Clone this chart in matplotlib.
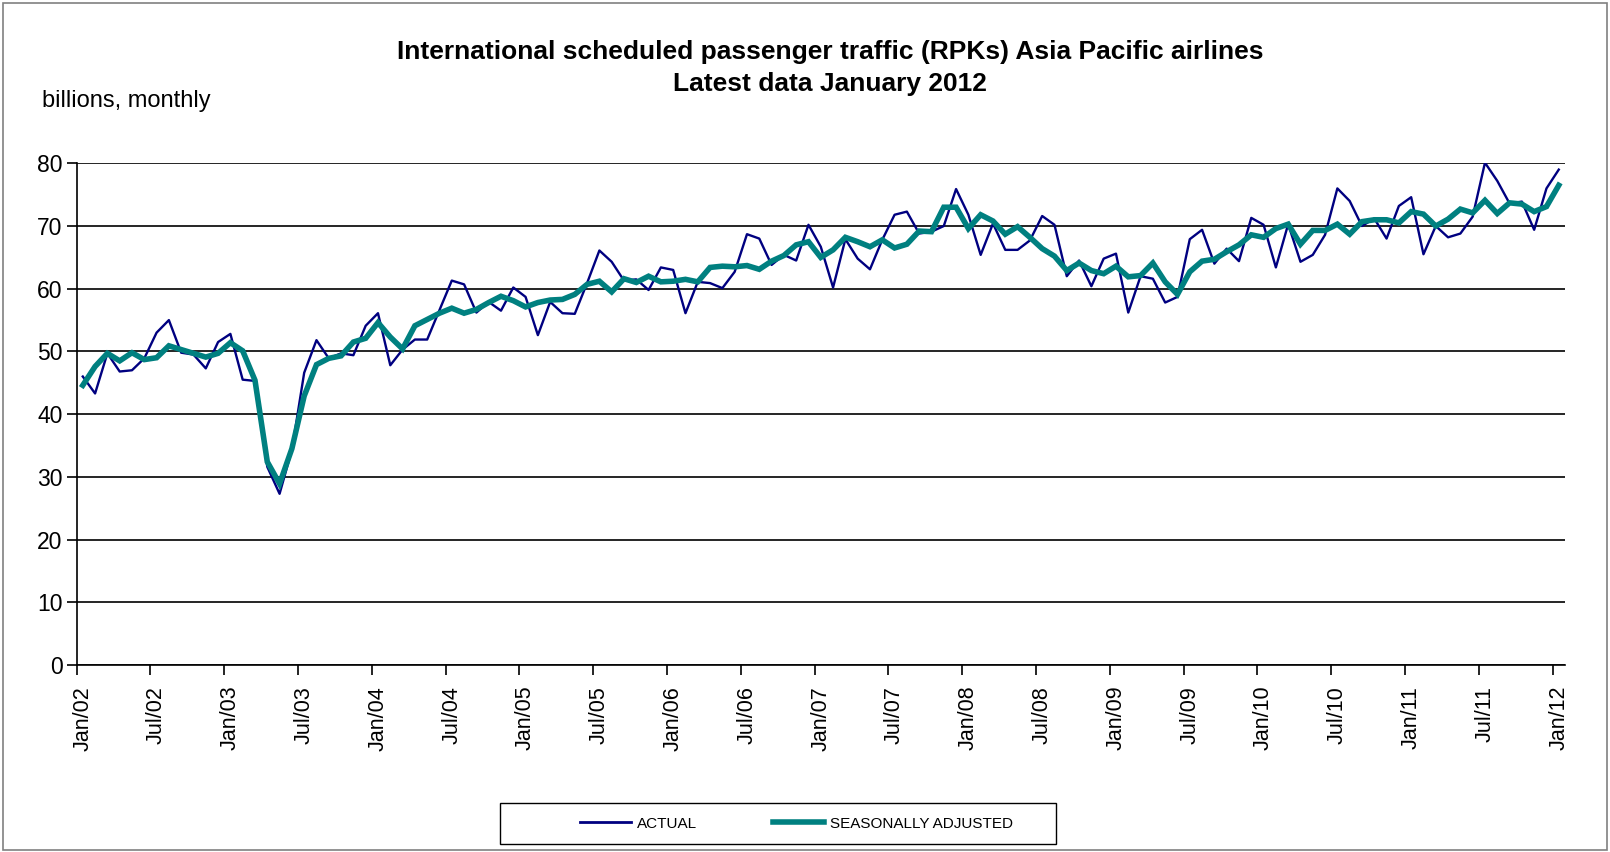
import matplotlib
matplotlib.use("Agg")
import matplotlib.pyplot as plt
from matplotlib.patches import Rectangle
from matplotlib.lines import Line2D

plt.rcParams['font.family'] = ['Liberation Sans', 'DejaVu Sans']

# monthly RPKs, billions, Jan 2002 .. Jan 2012
actual = [
    46.0, 43.3, 49.7, 46.8, 47.0, 48.9, 53.0, 55.0, 49.8, 49.5, 47.3, 51.5,
    52.8, 45.5, 45.3, 31.6, 27.3, 34.3, 46.6, 51.8, 48.9, 49.7, 49.4, 54.1,
    56.1, 47.8, 50.3, 51.9, 51.9, 56.6, 61.3, 60.7, 56.2, 57.9, 56.5, 60.2,
    58.7, 52.6, 57.9, 56.1, 56.0, 60.9, 66.1, 64.3, 61.3, 61.5, 59.8, 63.4,
    63.0, 56.1, 61.1, 60.9, 60.1, 62.7, 68.7, 68.0, 63.8, 65.4, 64.5, 70.2,
    66.7, 60.2, 67.9, 64.8, 63.1, 67.8, 71.8, 72.3, 68.8, 69.1, 70.0, 75.9,
    71.8, 65.4, 70.4, 66.2, 66.2, 67.7, 71.6, 70.2, 62.0, 64.5, 60.4, 64.8,
    65.6, 56.2, 62.0, 61.6, 57.8, 58.7, 67.9, 69.4, 64.0, 66.4, 64.4, 71.3,
    70.2, 63.4, 70.3, 64.3, 65.4, 68.6, 76.0, 74.0, 70.0, 71.2, 68.0, 73.2,
    74.6, 65.5, 70.0, 68.2, 68.8, 71.5, 80.1, 77.2, 73.6, 73.9, 69.4, 76.0,
    79.0,
]
seasonally_adjusted = [
    44.6, 47.6, 49.7, 48.5, 49.8, 48.7, 49.0, 50.9, 50.3, 49.7, 49.1, 49.7,
    51.4, 50.1, 45.4, 32.4, 28.9, 34.5, 42.9, 47.9, 48.9, 49.3, 51.5, 52.1,
    54.6, 52.3, 50.4, 54.1, 55.1, 56.1, 56.9, 56.1, 56.7, 57.8, 58.8, 58.1,
    57.1, 57.8, 58.2, 58.3, 59.1, 60.7, 61.2, 59.5, 61.6, 61.0, 62.0, 61.1,
    61.2, 61.5, 61.1, 63.4, 63.6, 63.5, 63.7, 63.1, 64.4, 65.3, 67.0, 67.5,
    65.0, 66.2, 68.2, 67.5, 66.7, 67.8, 66.5, 67.1, 69.2, 69.1, 73.0, 73.0,
    69.6, 71.8, 70.8, 68.7, 69.9, 68.2, 66.4, 65.2, 62.9, 64.1, 62.9, 62.4,
    63.6, 61.9, 62.1, 64.1, 61.1, 59.1, 62.7, 64.4, 64.7, 65.9, 67.0, 68.6,
    68.2, 69.6, 70.3, 67.1, 69.3, 69.3, 70.3, 68.7, 70.7, 71.0, 71.0, 70.5,
    72.3, 71.9, 70.0, 71.1, 72.7, 72.1, 74.1, 72.0, 73.7, 73.5, 72.3, 73.1,
    76.5,
]
tick_labels = ['Jan/02', 'Jul/02', 'Jan/03', 'Jul/03', 'Jan/04', 'Jul/04', 'Jan/05',
               'Jul/05', 'Jan/06', 'Jul/06', 'Jan/07', 'Jul/07', 'Jan/08', 'Jul/08',
               'Jan/09', 'Jul/09', 'Jan/10', 'Jul/10', 'Jan/11', 'Jul/11', 'Jan/12']

months = list(range(len(actual)))

fig = plt.figure(figsize=(16.1, 8.52), dpi=100)
ax = fig.add_axes([0.0476, 0.2195, 0.9244, 0.5888])

ax.plot(months, actual, color='#000080', lw=1.7, zorder=3, label='ACTUAL')
ax.plot(months, seasonally_adjusted, color='#008080', lw=4, zorder=4,
        solid_joinstyle='miter', label='SEASONALLY ADJUSTED')

ax.set_xlim(-0.5, len(months) - 0.5)
ax.set_ylim(0, 80)
ax.set_yticks(range(0, 81, 10))
ax.grid(axis='y', color='black', lw=1.2)
ax.set_axisbelow(True)
for s in ['top', 'right']:
    ax.spines[s].set_visible(False)
ax.spines['left'].set_linewidth(1.2)
ax.spines['bottom'].set_linewidth(1.2)
ax.tick_params(axis='y', length=7, width=1.2, labelsize=16.5, pad=3)

# tick marks between categories, labels centred on categories
ax.set_xticks([k - 0.5 for k in range(0, len(months), 6)])
ax.set_xticklabels([])
ax.tick_params(axis='x', which='major', length=7, width=1.2)
ax.set_xticks(list(range(0, len(months), 6)), minor=True)
ax.set_xticklabels(tick_labels, minor=True, rotation=90)
ax.tick_params(axis='x', which='minor', length=0, pad=15, labelsize=15.5)

fig.text(0.5155, 0.939, 'International scheduled passenger traffic (RPKs) Asia Pacific airlines',
         ha='center', va='center', fontsize=19, fontweight='bold')
fig.text(0.5155, 0.901, 'Latest data January 2012',
         ha='center', va='center', fontsize=19, fontweight='bold')
fig.text(0.026, 0.882, 'billions, monthly', ha='left', va='center', fontsize=17)

# legend box
fig.patches.append(Rectangle((0.3106, 0.0094), 0.3453, 0.048, transform=fig.transFigure,
                             fill=False, edgecolor='black', lw=1))
handles = [Line2D([], [], color='#000080', lw=2),
           Line2D([], [], color='#008080', lw=4)]
fig.legend(handles, ['ACTUAL', 'SEASONALLY ADJUSTED'], loc='center',
           bbox_to_anchor=(0.4947, 0.0334), ncol=2, frameon=False, fontsize=11,
           handlelength=3.3, handletextpad=0.4, columnspacing=5.0)

# outer border
fig.patches.append(Rectangle((0.002, 0.002), 0.996, 0.994, transform=fig.transFigure,
                             fill=False, edgecolor='#808080', lw=1.2))

fig.savefig('out.png', dpi=100)
